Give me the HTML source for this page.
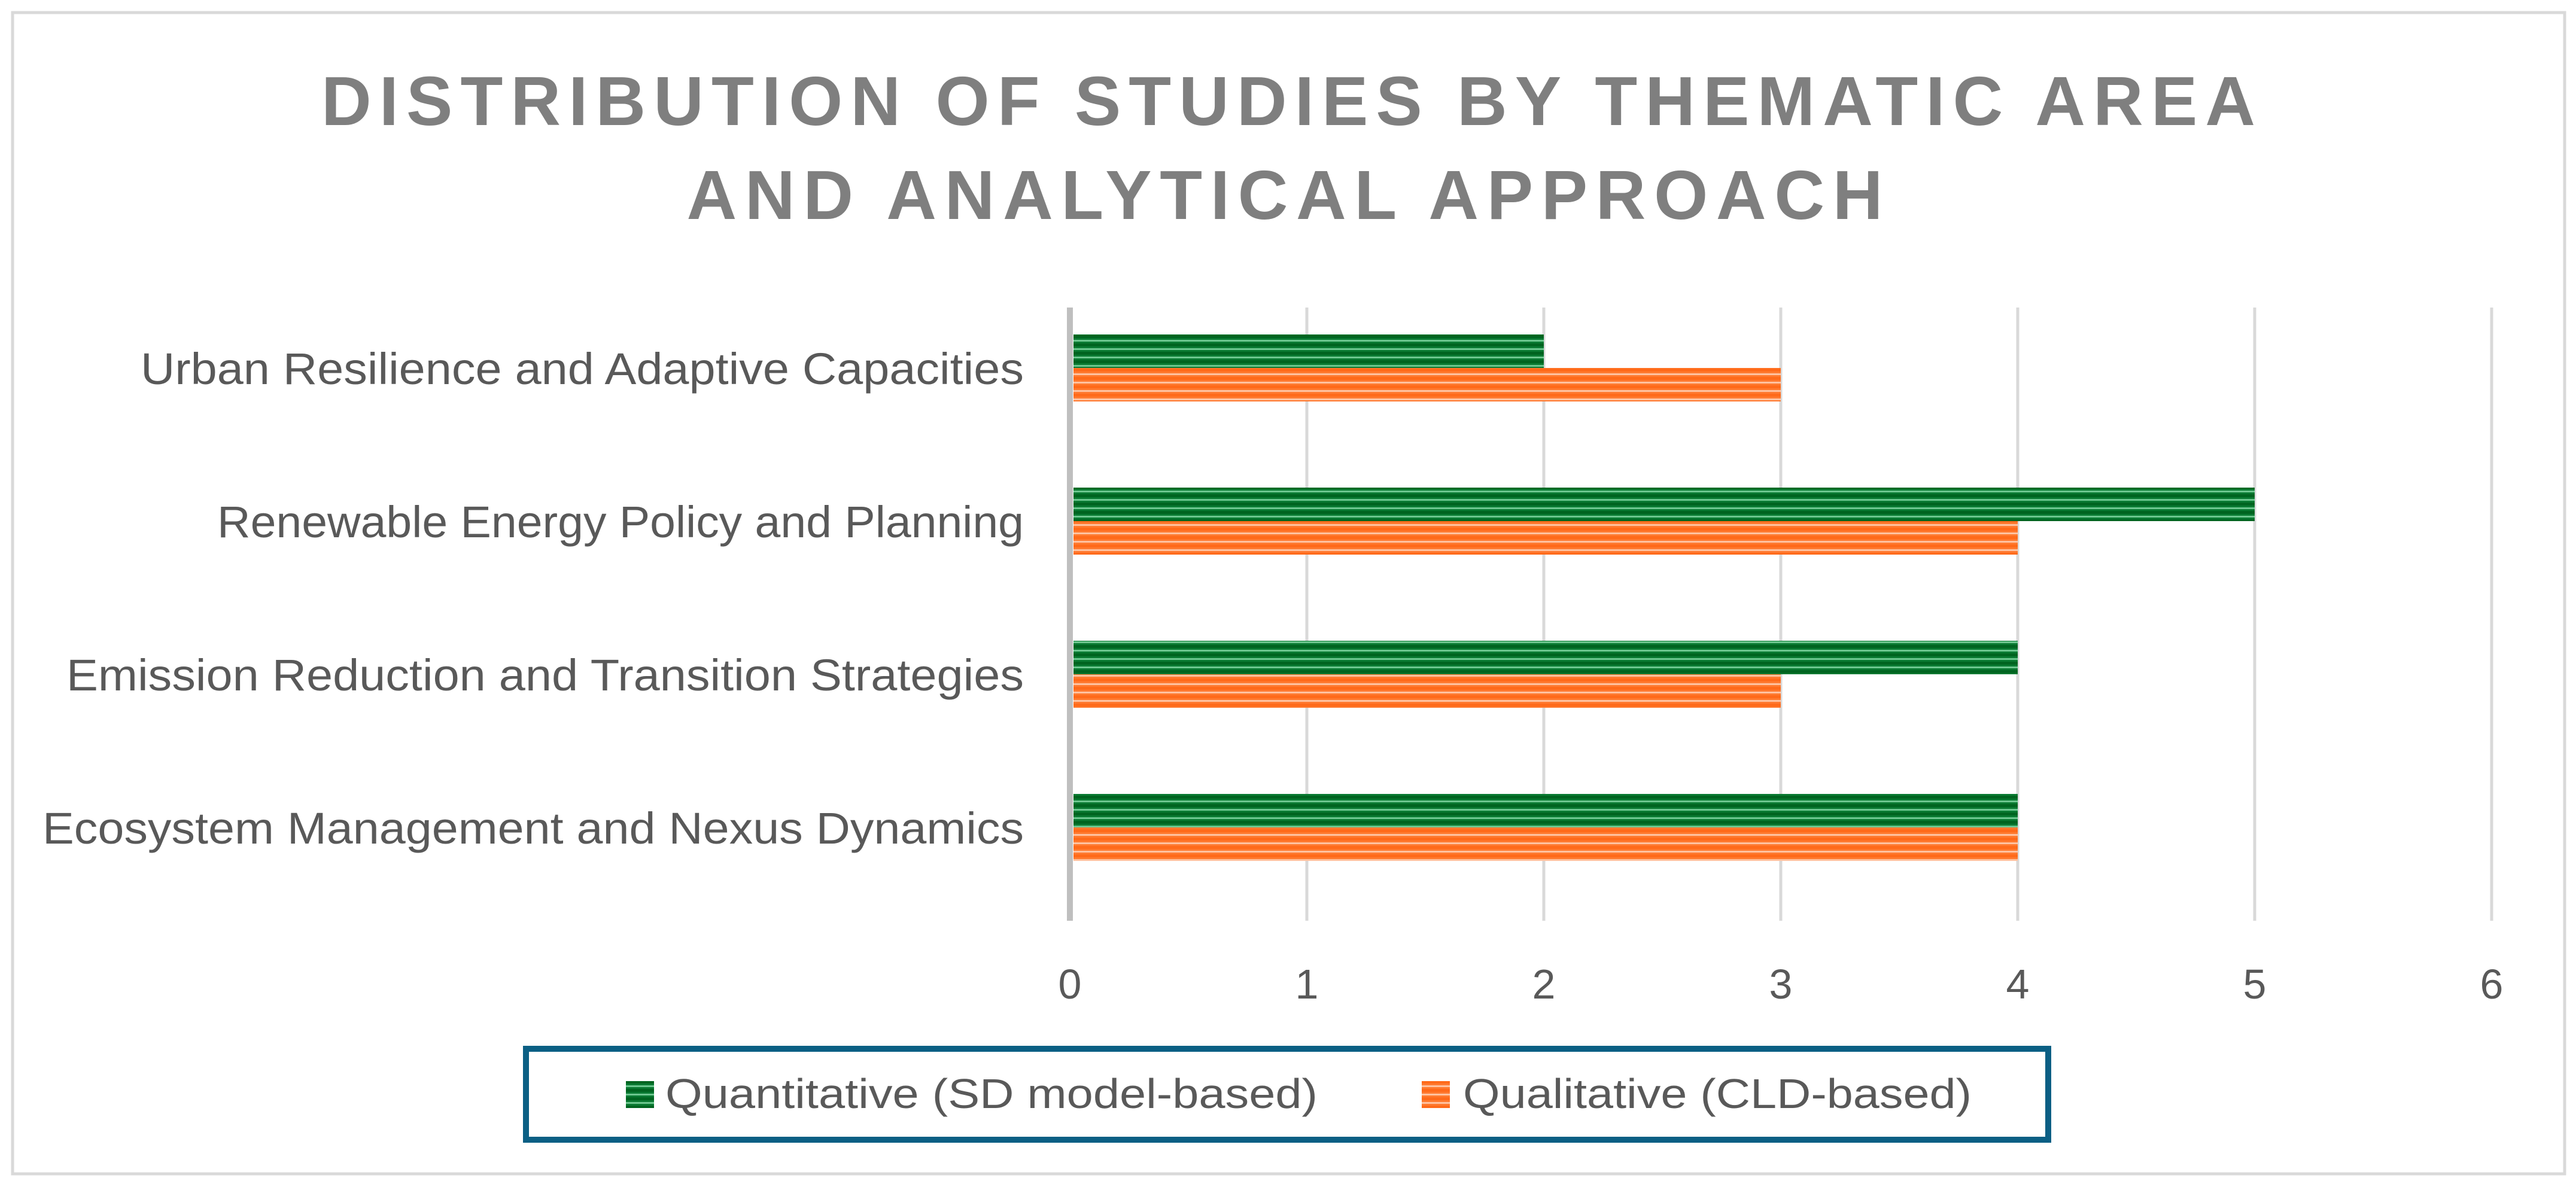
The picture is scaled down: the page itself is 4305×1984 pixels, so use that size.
<!DOCTYPE html>
<html><head><meta charset="utf-8"><style>html,body{margin:0;padding:0;background:#fff}svg{display:block}</style></head>
<body>
<svg id="chart" width="4305" height="1984" viewBox="0 0 4305 1984" xmlns="http://www.w3.org/2000/svg">
<defs>
<pattern id="pg" patternUnits="userSpaceOnUse" width="20" height="14"><rect width="20" height="14" fill="#0a7a32"/><rect y="0" width="20" height="5" fill="#006420"/><rect y="8" width="20" height="3" fill="#6cc68e"/></pattern>
<pattern id="po" patternUnits="userSpaceOnUse" width="20" height="14"><rect width="20" height="14" fill="#ff7a30"/><rect y="0" width="20" height="5" fill="#ff6a1a"/><rect y="8" width="20" height="3" fill="#ffc2a0"/></pattern>
</defs>
<rect x="21" y="21" width="4265" height="1941" fill="#fff" stroke="#d9d9d9" stroke-width="5"/>
<text x="2153" y="209" text-anchor="middle" font-family="Liberation Sans, sans-serif" font-weight="bold" font-size="116" fill="#7f7f7f" textLength="3232" lengthAdjust="spacing">DISTRIBUTION OF STUDIES BY THEMATIC AREA</text>
<text x="2147" y="366" text-anchor="middle" font-family="Liberation Sans, sans-serif" font-weight="bold" font-size="116" fill="#7f7f7f" textLength="1999" lengthAdjust="spacing">AND ANALYTICAL APPROACH</text>
<g id="grid"></g>
<g id="bars"></g>
<g id="ylabels"></g>
<g id="xlabels"></g>
<line x1="1788" y1="514" x2="1788" y2="1539" stroke="#bfbfbf" stroke-width="10"/>
<g>
<rect x="879" y="1753" width="2544" height="152" fill="#fff" stroke="#0b5f84" stroke-width="10"/>
<rect x="1046" y="1807" width="47" height="45" fill="url(#pg)"/>
<text x="1112" y="1852" font-family="Liberation Sans, sans-serif" font-size="70" fill="#595959" textLength="1090" lengthAdjust="spacingAndGlyphs">Quantitative (SD model-based)</text>
<rect x="2376" y="1807" width="47" height="45" fill="url(#po)"/>
<text x="2445" y="1852" font-family="Liberation Sans, sans-serif" font-size="70" fill="#595959" textLength="850" lengthAdjust="spacingAndGlyphs">Qualitative (CLD-based)</text>
</g>
</svg>
<script>
const categories = ["Urban Resilience and Adaptive Capacities","Renewable Energy Policy and Planning","Emission Reduction and Transition Strategies","Ecosystem Management and Nexus Dynamics"];
const quantitative = [2, 5, 4, 4];
const qualitative = [3, 4, 3, 4];
const xTicks = [0, 1, 2, 3, 4, 5, 6];
const labelWidths = [1476, 1348, 1600, 1640];

const NS = "http://www.w3.org/2000/svg";
const X0 = 1788, UNIT = 396;
const xs = v => X0 + v * UNIT;
const Y0 = 615, BAND = 256, BH = 56;
const yc = i => Y0 + i * BAND;
function mk(tag, attrs, parent) {
  const el = document.createElementNS(NS, tag);
  for (const k in attrs) el.setAttribute(k, attrs[k]);
  parent.appendChild(el);
  return el;
}
const grid = document.getElementById('grid');
const xl = document.getElementById('xlabels');
xTicks.forEach(t => {
  if (t > 0) {
    const g = mk('line', {x1: xs(t), x2: xs(t), y1: 514, y2: 1539, stroke: '#d9d9d9', 'stroke-width': 5}, grid);
    
    
  }
  const tx = mk('text', {x: xs(t), y: 1669, 'text-anchor': 'middle', 'font-family': 'Liberation Sans, sans-serif', 'font-size': 70, fill: '#595959'}, xl);
  tx.textContent = t;
  
  
});
const bars = document.getElementById('bars');
const yl = document.getElementById('ylabels');
categories.forEach((c, i) => {
  const g = mk('rect', {x: X0 + 6, y: yc(i) - BH, width: xs(quantitative[i]) - X0 - 6, height: BH, fill: 'url(#pg)'}, bars);
  
  
  const o = mk('rect', {x: X0 + 6, y: yc(i), width: xs(qualitative[i]) - X0 - 6, height: BH, fill: 'url(#po)'}, bars);
  
  
  const t = mk('text', {x: 1711, y: yc(i) + 27, 'text-anchor': 'end', 'font-family': 'Liberation Sans, sans-serif', 'font-size': 74, fill: '#595959', textLength: labelWidths[i], lengthAdjust: 'spacingAndGlyphs'}, yl);
  t.textContent = c;
  
  
});
</script>
</body></html>
